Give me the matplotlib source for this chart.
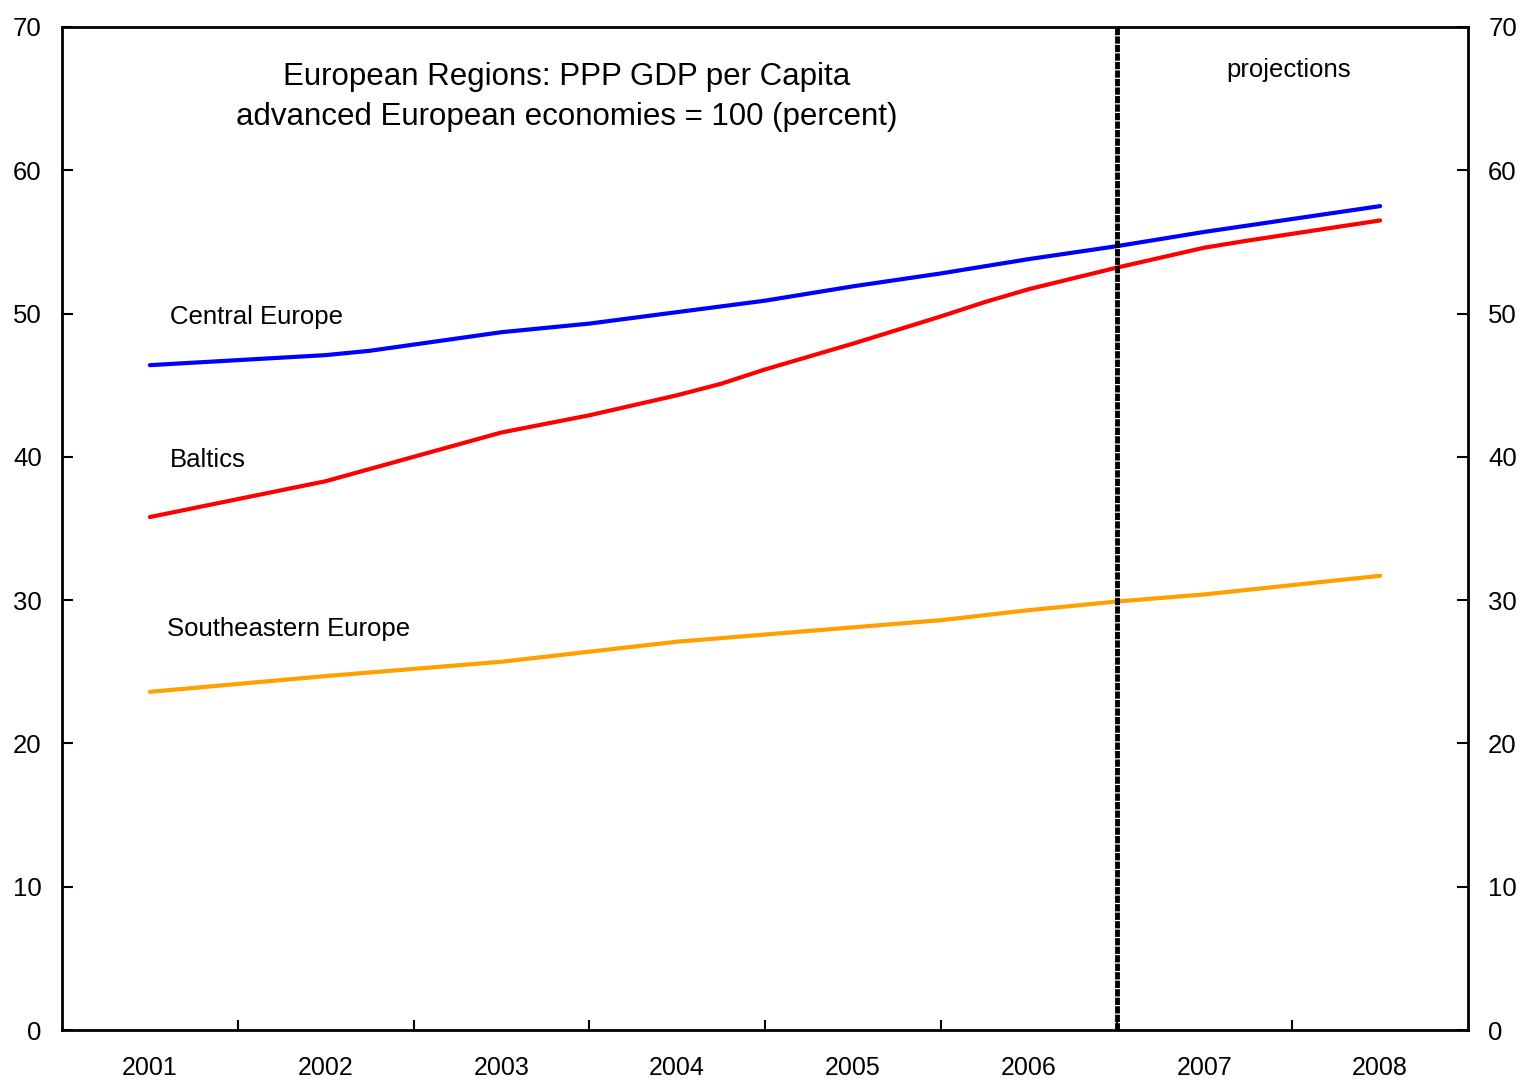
import matplotlib
matplotlib.use("Agg")
import matplotlib.pyplot as plt

plt.rcParams['font.family'] = ['Liberation Sans', 'DejaVu Sans']

years = [2001, 2002, 2003, 2004, 2005, 2006, 2007, 2008]

ce_x = [2001.0, 2002.0, 2002.25, 2003.0, 2003.5, 2004.0, 2004.5, 2005.0, 2005.5, 2006.0, 2006.5, 2007.0, 2008.0]
ce_y = [46.4, 47.1, 47.4, 48.7, 49.3, 50.1, 50.9, 51.9, 52.8, 53.8, 54.7, 55.7, 57.5]

bal_x = [2001.0, 2002.0, 2002.5, 2003.0, 2003.25, 2003.5, 2004.0, 2004.25, 2004.5, 2005.0, 2005.5, 2005.75, 2006.0, 2006.5, 2007.0, 2007.25, 2008.0]
bal_y = [35.8, 38.3, 40.0, 41.7, 42.3, 42.9, 44.3, 45.1, 46.1, 47.9, 49.8, 50.8, 51.7, 53.2, 54.6, 55.1, 56.5]

see_x = [2001.0, 2002.0, 2002.5, 2003.0, 2003.5, 2004.0, 2004.5, 2005.0, 2005.5, 2006.0, 2006.5, 2007.0, 2008.0]
see_y = [23.6, 24.7, 25.2, 25.7, 26.4, 27.1, 27.6, 28.1, 28.6, 29.3, 29.9, 30.4, 31.7]

yticks = [0, 10, 20, 30, 40, 50, 60, 70]
projection_start = 2006.5

fig = plt.figure(figsize=(15.2, 10.8), dpi=100)
ax = fig.add_axes([62/1520, 50/1080, 1406/1520, 1003/1080])

ax.plot(ce_x, ce_y, color='#0000FF', lw=3, solid_capstyle='round')
ax.plot(bal_x, bal_y, color='#FF0000', lw=3, solid_capstyle='round')
ax.plot(see_x, see_y, color='#FFA000', lw=3, solid_capstyle='round')

ax.axvline(projection_start, color='black', lw=3.5, ls=(0, (1.5, 0.25)))

ax.set_xlim(2000.5, 2008.5)
ax.set_ylim(0, 70)
ax.set_yticks(yticks)
ax.set_xticks(years)
ax.set_xticklabels([str(y) for y in years])
ax.set_xticks([y + 0.5 for y in years[:-1]], minor=True)
ax.tick_params(axis='x', which='major', length=0, labelsize=18, pad=18.5)
ax.tick_params(axis='x', which='minor', direction='in', length=7, width=1.5)
ax.tick_params(axis='y', direction='in', length=8, width=1.5, labelsize=18.5,
               left=True, right=True, labelleft=True, labelright=True, pad=14.5)
for s in ax.spines.values():
    s.set_linewidth(2)

ax.text(0.3588, 0.930, "European Regions: PPP GDP per Capita\nadvanced European economies = 100 (percent)",
        transform=ax.transAxes, ha='center', va='center', fontsize=22.5, linespacing=1.44)
ax.text(0.8723, 0.957, "projections", transform=ax.transAxes, ha='center', va='center', fontsize=18.5)
ax.text(0.077, 0.711, "Central Europe", transform=ax.transAxes, ha='left', va='center', fontsize=18.5)
ax.text(0.077, 0.568, "Baltics", transform=ax.transAxes, ha='left', va='center', fontsize=18.5)
ax.text(0.075, 0.400, "Southeastern Europe", transform=ax.transAxes, ha='left', va='center', fontsize=18.5)

fig.savefig("out.png", dpi=100)
